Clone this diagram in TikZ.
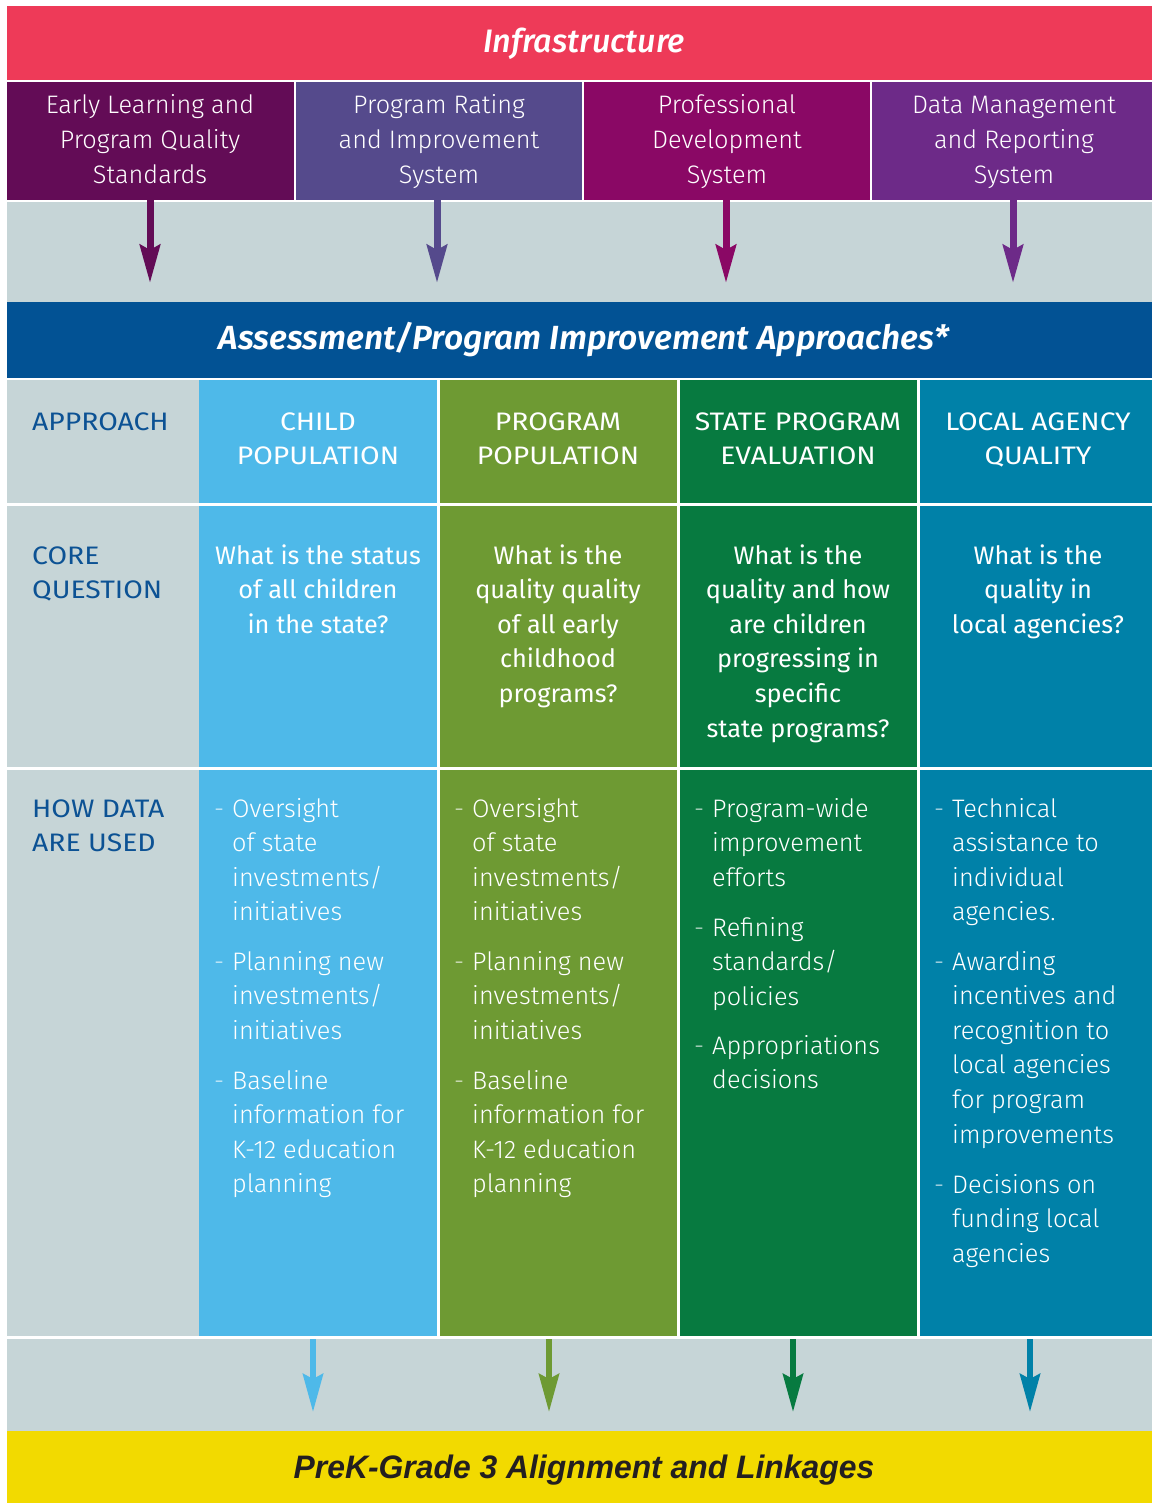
\documentclass[tikz,border=0pt]{standalone}
\usepackage{fontspec}
\setmainfont{Fira Sans}
\newfontfamily\lightfont{Fira Sans Light}
\newfontfamily\capsfont{Fira Sans}[FakeStretch=1.12]
\newfontfamily\medit{Fira Sans Medium Italic}
\newfontfamily\semiit{Fira Sans SemiBold Italic}
\newfontfamily\condfont{Liberation Sans}
\usetikzlibrary{arrows.meta}
\definecolor{cPink}{RGB}{238,58,88}
\definecolor{cPlum}{RGB}{99,12,86}
\definecolor{cIndigo}{RGB}{85,74,140}
\definecolor{cMagenta}{RGB}{138,8,101}
\definecolor{cViolet}{RGB}{109,42,136}
\definecolor{cGray}{RGB}{198,213,215}
\definecolor{cBlue}{RGB}{2,82,148}
\definecolor{cLabel}{RGB}{12,82,148}
\definecolor{cSky}{RGB}{78,185,233}
\definecolor{cOlive}{RGB}{110,154,51}
\definecolor{cGreen}{RGB}{7,122,64}
\definecolor{cTeal}{RGB}{0,129,168}
\definecolor{cYellow}{RGB}{242,218,0}
\definecolor{cInk}{RGB}{35,31,32}
\tikzset{
  panel/.style={draw=none, inner sep=0pt, outer sep=0pt, anchor=north west},
  lighttxt/.style={font=\lightfont\fontsize{25.3}{30}\selectfont, text=white, inner sep=0pt},
  regtxt/.style={font=\fontsize{25.3}{30}\selectfont, text=white, inner sep=0pt},
  captxt/.style={font=\capsfont\fontsize{25.3}{30}\selectfont, text=white, inner sep=0pt},
  labeltxt/.style={font=\capsfont\fontsize{25.3}{30}\selectfont, text=cLabel, inner sep=0pt, anchor=base west},
  dashtxt/.style={font=\lightfont\fontsize{25}{30}\selectfont, text=white, text opacity=0.75, inner sep=0pt, anchor=base west},
  downarrow/.style={line width=7pt, -{Stealth[length=38pt, width=20pt, inset=5pt]}},
  downarrowthin/.style={line width=6pt, -{Stealth[length=38pt, width=20pt, inset=5pt]}},
}
% panel: name, colour, x1, y1, x2, y2 (pixel coordinates, y downward)
\newcommand\panel[6]{\node[panel, fill=#2, minimum width={#5-#3}, minimum height={#6-#4}] (#1) at (#3,#4) {};}
% text lines: name prefix, style, x, first baseline, list
\newcommand\tlines[5]{\foreach \t [count=\i from 0] in {#5}{\node[#2, name=#1\i] at (#3,{#4+34.6*\i}) {\t};}}
\begin{document}
\begin{tikzpicture}[x=1pt,y=-1pt]
\useasboundingbox (0,0) rectangle (1152,1503);
\fill[white] (0,0) rectangle (1152,1503);

% Infrastructure
\panel{infra}{cPink}{7}{6}{1152}{80}
\node[font=\medit\fontsize{32.5}{36}\selectfont, text=white, inner sep=0pt, anchor=base] (infraT) at (584,53) {Infrastructure};

\panel{tb1}{cPlum}{7}{82}{294}{200}
\panel{tb2}{cIndigo}{296}{82}{582}{200}
\panel{tb3}{cMagenta}{584}{82}{870}{200}
\panel{tb4}{cViolet}{872}{82}{1152}{200}
\tlines{tbA}{lighttxt, anchor=base}{150}{114}{Early Learning and, Program Quality, Standards}
\tlines{tbB}{lighttxt, anchor=base}{439}{114}{Program Rating, and Improvement, System}
\tlines{tbC}{lighttxt, anchor=base}{727}{114}{Professional, Development, System}
\tlines{tbD}{lighttxt, anchor=base}{1014}{114}{Data Management, and Reporting, System}

\panel{band1}{cGray}{7}{202}{1152}{302}
\coordinate (a1) at (150,283);
\coordinate (a2) at (437,283);
\coordinate (a3) at (726,283);
\coordinate (a4) at (1013,283);
\draw[downarrow, cPlum] (a1 |- tb1.south) -- (a1);
\draw[downarrow, cIndigo] (a2 |- tb2.south) -- (a2);
\draw[downarrow, cMagenta] (a3 |- tb3.south) -- (a3);
\draw[downarrow, cViolet] (a4 |- tb4.south) -- (a4);

% Assessment band
\panel{assess}{cBlue}{7}{302}{1152}{378}
\node[font=\semiit\fontsize{33.5}{36}\selectfont, text=white, inner sep=0pt, anchor=base] (assessT) at (584,349) {Assessment/Program Improvement Approaches*};

% Row 1
\panel{r1c0}{cGray}{7}{380}{199}{503}
\panel{r1c1}{cSky}{199}{380}{437}{503}
\panel{r1c2}{cOlive}{440}{380}{677}{503}
\panel{r1c3}{cGreen}{680}{380}{917}{503}
\panel{r1c4}{cTeal}{920}{380}{1152}{503}
% Row 2
\panel{r2c0}{cGray}{7}{506}{199}{767}
\panel{r2c1}{cSky}{199}{506}{437}{767}
\panel{r2c2}{cOlive}{440}{506}{677}{767}
\panel{r2c3}{cGreen}{680}{506}{917}{767}
\panel{r2c4}{cTeal}{920}{506}{1152}{767}
% Row 3
\panel{r3c0}{cGray}{7}{770}{199}{1336}
\panel{r3c1}{cSky}{199}{770}{437}{1336}
\panel{r3c2}{cOlive}{440}{770}{677}{1336}
\panel{r3c3}{cGreen}{680}{770}{917}{1336}
\panel{r3c4}{cTeal}{920}{770}{1152}{1336}

% Row labels
\tlines{lA}{labeltxt}{32}{430}{APPROACH}
\tlines{lB}{labeltxt}{32}{564}{CORE, QUESTION}
\tlines{lC}{labeltxt}{32}{817}{HOW DATA, ARE USED}

% Row 1 headers
\tlines{h1}{captxt, anchor=base}{318}{430}{CHILD, POPULATION}
\tlines{h2}{captxt, anchor=base}{558}{430}{PROGRAM, POPULATION}
\tlines{h3}{captxt, anchor=base}{798}{430}{STATE PROGRAM, EVALUATION}
\tlines{h4}{captxt, anchor=base}{1038}{430}{LOCAL AGENCY, QUALITY}

% Row 2 questions
\tlines{q1}{regtxt, anchor=base}{318}{564}{What is the status, of all children, in the state?}
\tlines{q2}{regtxt, anchor=base}{558}{564}{What is the, quality quality, of all early, childhood, programs?}
\tlines{q3}{regtxt, anchor=base}{798}{564}{What is the, quality and how, are children, progressing in, specific, state programs?}
\tlines{q4}{regtxt, anchor=base}{1038}{564}{What is the, quality in, local agencies?}

% Row 3 bullets: child population
\node[dashtxt] (d11) at (214,817) {-};
\tlines{u11}{lighttxt, anchor=base west}{232}{817}{Oversight, of state, investments/, initiatives}
\node[dashtxt] (d12) at (214,970) {-};
\tlines{u12}{lighttxt, anchor=base west}{232}{970}{Planning new, investments/, initiatives}
\node[dashtxt] (d13) at (214,1089) {-};
\tlines{u13}{lighttxt, anchor=base west}{232}{1089}{Baseline, information for, K-12 education, planning}
% program population
\node[dashtxt] (d21) at (454,817) {-};
\tlines{u21}{lighttxt, anchor=base west}{472}{817}{Oversight, of state, investments/, initiatives}
\node[dashtxt] (d22) at (454,970) {-};
\tlines{u22}{lighttxt, anchor=base west}{472}{970}{Planning new, investments/, initiatives}
\node[dashtxt] (d23) at (454,1089) {-};
\tlines{u23}{lighttxt, anchor=base west}{472}{1089}{Baseline, information for, K-12 education, planning}
% state program evaluation
\node[dashtxt] (d31) at (694,817) {-};
\tlines{u31}{lighttxt, anchor=base west}{712}{817}{Program-wide, improvement, efforts}
\node[dashtxt] (d32) at (694,936) {-};
\tlines{u32}{lighttxt, anchor=base west}{712}{936}{Refining, standards/, policies}
\node[dashtxt] (d33) at (694,1054) {-};
\tlines{u33}{lighttxt, anchor=base west}{712}{1054}{Appropriations, decisions}
% local agency quality
\node[dashtxt] (d41) at (934,817) {-};
\tlines{u41}{lighttxt, anchor=base west}{952}{817}{Technical, assistance to, individual, agencies.}
\node[dashtxt] (d42) at (934,970) {-};
\tlines{u42}{lighttxt, anchor=base west}{952}{970}{Awarding, incentives and, recognition to, local agencies, for program, improvements}
\node[dashtxt] (d43) at (934,1193) {-};
\tlines{u43}{lighttxt, anchor=base west}{952}{1193}{Decisions on, funding local, agencies}

% Bottom band and arrows
\panel{band2}{cGray}{7}{1339}{1152}{1431}
\coordinate (b1) at (313,1412);
\coordinate (b2) at (549,1412);
\coordinate (b3) at (793,1412);
\coordinate (b4) at (1030,1412);
\draw[downarrowthin, cSky] (b1 |- band2.north) -- (b1);
\draw[downarrowthin, cOlive] (b2 |- band2.north) -- (b2);
\draw[downarrowthin, cGreen] (b3 |- band2.north) -- (b3);
\draw[downarrowthin, cTeal] (b4 |- band2.north) -- (b4);

\panel{linkage}{cYellow}{7}{1431}{1152}{1503}
\node[font=\condfont\bfseries\itshape\fontsize{32.5}{36}\selectfont, text=cInk, inner sep=0pt, anchor=base] (linkT) at (584,1478) {\scalebox{0.98}[1]{PreK-Grade 3 Alignment and Linkages}};
\end{tikzpicture}
\end{document}
